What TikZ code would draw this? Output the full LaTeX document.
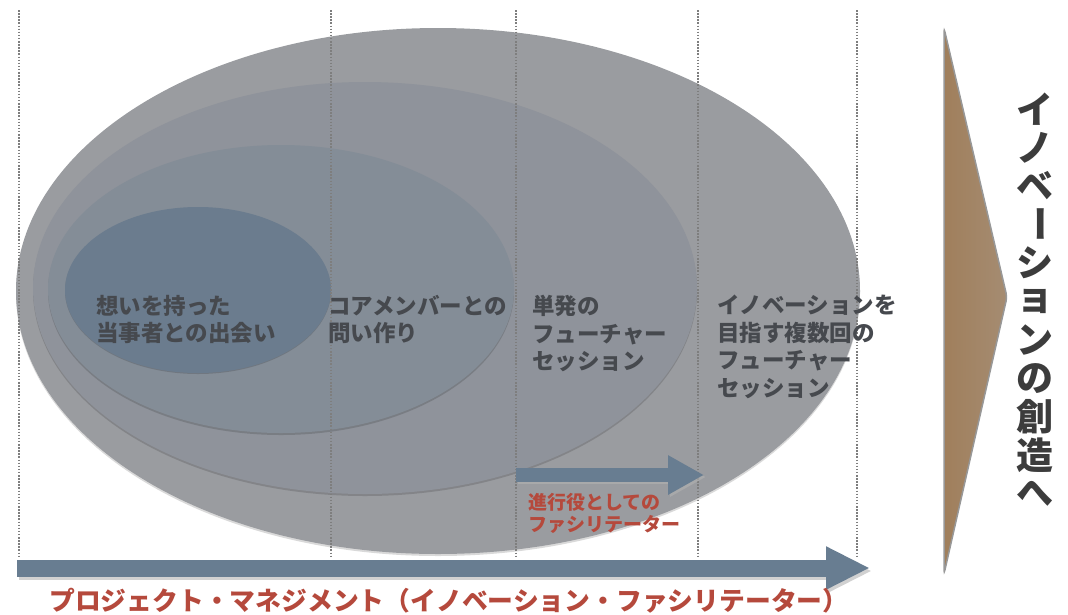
\documentclass[tikz,border=0pt]{standalone}
\usepackage{fontspec}
\newfontfamily\jp{Noto Sans CJK JP}
\usetikzlibrary{positioning, shapes.geometric, arrows.meta}
\definecolor{outerfill}{HTML}{9A9CA0}
\definecolor{secondfill}{HTML}{8F939B}
\definecolor{thirdfill}{HTML}{848D97}
\definecolor{innerfill}{HTML}{6B7C8E}
\definecolor{stagetext}{HTML}{46494E}
\definecolor{guidegray}{HTML}{7E7E7E}
\definecolor{flowblue}{HTML}{687D91}
\definecolor{labelred}{HTML}{B5493C}
\definecolor{risebrown}{HTML}{A07F5C}
\definecolor{riselight}{HTML}{A58C72}
\definecolor{risetext}{HTML}{3C3C3C}

\begin{document}
\begin{tikzpicture}[x=1pt, y=-1pt,
  stage/.style={anchor=north west, inner sep=0pt, align=left, text=stagetext, font=\jp\bfseries\fontsize{22.5}{27.5}\selectfont},
  rim/.style={fill=black, opacity=0.15},
  guide/.style={draw=guidegray, line width=1.5pt, dash pattern=on 1.5pt off 1.6pt},
  flow/.style={draw=flowblue, line width=#1},
  flowshadow/.style={draw=black!30, opacity=0.6, line width=#1}]
\useasboundingbox (0,0) rectangle (1068,614);

\fill[rim] (438,293) circle [x radius=422pt, y radius=263pt];
\fill[outerfill] (438,291) circle [x radius=422pt, y radius=263pt];
\fill[rim] (365,290) circle [x radius=332pt, y radius=206pt];
\fill[secondfill] (365,288) circle [x radius=332pt, y radius=206pt];
\fill[rim] (281,291) circle [x radius=233pt, y radius=144pt];
\fill[thirdfill] (281,289) circle [x radius=233pt, y radius=144pt];
\fill[rim] (198,291) circle [x radius=133pt, y radius=83pt];
\fill[innerfill] (198,290) circle [x radius=133pt, y radius=83pt];

\foreach \gx in {19,331,516,698,857}
  \draw[guide] (\gx,10) -- (\gx,557);

\node[stage] (meet) at (96,295) {想いを持った\\当事者との出会い};
\node[stage] (core) at (328,295) {コアメンバーとの\\問い作り};
\node[stage] (single) at (532,295) {単発の\\フューチャー\\セッション};
\node[stage] (multi) at (717,295) {イノベーションを\\目指す複数回の\\フューチャー\\セッション};

\coordinate (facstart) at (516,475);
\coordinate (facend) at (704,475);
\draw[flowshadow=14pt, -{Triangle[width=37pt, length=36pt]}] ([shift={(2,2)}]facstart) -- ([shift={(2,2)}]facend);
\draw[flow=14pt, -{Triangle[width=37pt, length=36pt]}] (facstart) -- (facend);
\node[anchor=north west, inner sep=0pt, align=left, text=labelred, font=\jp\bfseries\fontsize{19}{22}\selectfont] (facilitator) at (528,493) {進行役としての\\ファシリテーター};

\coordinate (pmstart) at (17,568);
\coordinate (pmend) at (870,568);
\draw[flowshadow=17pt, -{Triangle[width=40pt, length=44pt]}] ([shift={(2,3)}]pmstart) -- ([shift={(2,3)}]pmend);
\draw[flow=17pt, -{Triangle[width=40pt, length=44pt]}] (pmstart) -- (pmend);
\node[anchor=west, inner sep=0pt, text=labelred, font=\jp\bfseries\fontsize{25.8}{30}\selectfont] (pm) at (49,601) {プロジェクト・マネジメント（イノベーション・ファシリテーター）};

\filldraw[draw=guidegray!80, line width=1.5pt, left color=risebrown, right color=riselight, rounded corners=4pt] (944,28) -- (1007,297) -- (944,574) -- cycle;
\foreach \ch [count=\i] in {イ,ノ,ベ,{\rotatebox{-90}{ー}},シ,ョ,ン,の,創,造,へ}
  \node[text=risetext, font=\jp\bfseries\fontsize{37}{40}\selectfont, inner sep=0pt] (up\i) at (1035,{109+38.45*(\i-1)}) {\ch};
\end{tikzpicture}
\end{document}
